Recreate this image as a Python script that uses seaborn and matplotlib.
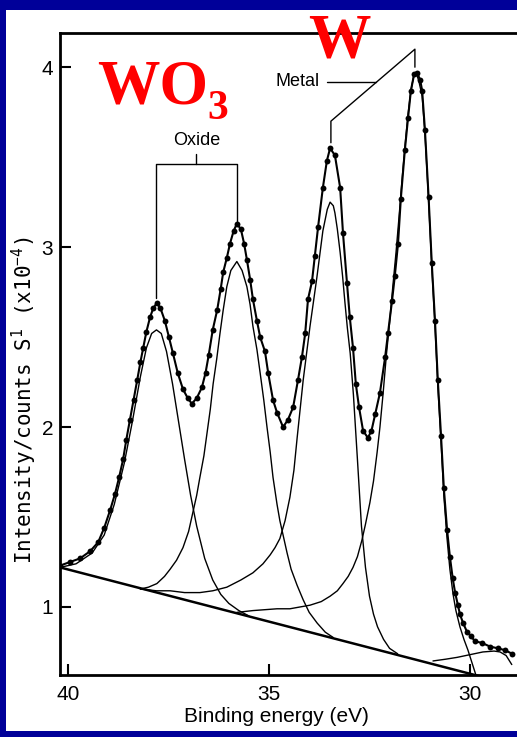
import matplotlib
matplotlib.use("Agg")
import matplotlib.pyplot as plt
from matplotlib.patches import Rectangle
import seaborn as sns
import pandas as pd

# ---------------- data ----------------
# measured envelope (dots): binding energy (eV), intensity (x1e4 counts/s)
env_be = [40.20, 39.95, 39.70, 39.45, 39.25, 39.10, 38.95, 38.83, 38.73, 38.63,
          38.55, 38.46, 38.37, 38.28, 38.20, 38.13, 38.05, 37.96, 37.88, 37.79,
          37.70, 37.59, 37.49, 37.39, 37.27, 37.14, 37.02, 36.92, 36.80, 36.67,
          36.58, 36.50, 36.40, 36.29, 36.20, 36.14, 36.05, 35.97, 35.88, 35.80,
          35.70, 35.62, 35.55, 35.47, 35.40, 35.30, 35.22, 35.10, 35.02, 34.90,
          34.80, 34.65, 34.53, 34.40, 34.28, 34.18, 34.10, 34.03, 33.93, 33.86,
          33.78, 33.66, 33.56, 33.48, 33.36, 33.23, 33.16, 33.06, 32.99, 32.91,
          32.84, 32.76, 32.66, 32.54, 32.45, 32.36, 32.24, 32.11, 32.04, 31.94,
          31.87, 31.79, 31.72, 31.62, 31.54, 31.47, 31.39, 31.32, 31.24, 31.19,
          31.12, 31.03, 30.95, 30.87, 30.80, 30.72, 30.65, 30.57, 30.50, 30.43,
          30.37, 30.30, 30.25, 30.17, 30.07, 29.98, 29.88, 29.70, 29.50, 29.30,
          29.13, 28.95]
env_int = [1.23, 1.25, 1.27, 1.31, 1.36, 1.44, 1.54, 1.63, 1.72, 1.82,
           1.93, 2.04, 2.15, 2.26, 2.36, 2.44, 2.53, 2.61, 2.66, 2.69,
           2.66, 2.59, 2.50, 2.41, 2.30, 2.21, 2.16, 2.13, 2.16, 2.22,
           2.30, 2.40, 2.54, 2.65, 2.77, 2.86, 2.94, 3.02, 3.09, 3.13,
           3.10, 3.02, 2.93, 2.82, 2.71, 2.59, 2.50, 2.42, 2.30, 2.15,
           2.08, 2.00, 2.04, 2.11, 2.26, 2.39, 2.52, 2.71, 2.81, 2.95,
           3.11, 3.33, 3.48, 3.55, 3.51, 3.33, 3.08, 2.80, 2.61, 2.44,
           2.24, 2.11, 1.98, 1.94, 1.98, 2.07, 2.19, 2.39, 2.52, 2.70,
           2.84, 3.02, 3.27, 3.54, 3.72, 3.87, 3.96, 3.97, 3.93, 3.87,
           3.65, 3.28, 2.91, 2.59, 2.26, 1.95, 1.66, 1.43, 1.28, 1.16,
           1.08, 1.01, 0.96, 0.91, 0.86, 0.84, 0.81, 0.80, 0.78, 0.77,
           0.76, 0.74]

# linear background
bg_be = [40.20, 29.50]
bg_int = [1.22, 0.60]

# oxide component 1 (W 4f5/2, WO3)
oxa_be = [40.20, 39.80, 39.40, 39.10, 38.85, 38.60, 38.40, 38.20, 38.05, 37.92,
          37.80, 37.68, 37.55, 37.40, 37.25, 37.10, 36.95, 36.80, 36.60, 36.40,
          36.20, 36.00, 35.75, 35.50]
oxa_int = [1.22, 1.24, 1.30, 1.40, 1.57, 1.80, 2.03, 2.28, 2.44, 2.52,
           2.54, 2.52, 2.42, 2.24, 2.03, 1.82, 1.62, 1.45, 1.27, 1.15,
           1.07, 1.02, 0.98, 0.95]

# oxide component 2 (W 4f7/2, WO3)
oxb_be = [38.20, 38.00, 37.79, 37.60, 37.46, 37.30, 37.14, 37.00, 36.89, 36.80,
          36.72, 36.62, 36.54, 36.46, 36.39, 36.30, 36.22, 36.14, 36.05, 35.95,
          35.80, 35.67, 35.55, 35.47, 35.40, 35.30, 35.22, 35.13, 35.05, 34.97,
          34.90, 34.80, 34.73, 34.63, 34.55, 34.45, 34.30, 34.15, 34.00, 33.80,
          33.60, 33.40]
oxb_int = [1.10, 1.11, 1.13, 1.17, 1.21, 1.26, 1.33, 1.42, 1.53, 1.62,
           1.72, 1.84, 1.97, 2.10, 2.24, 2.38, 2.52, 2.65, 2.78, 2.87,
           2.92, 2.87, 2.78, 2.68, 2.56, 2.43, 2.30, 2.15, 2.00, 1.86,
           1.72, 1.57, 1.48, 1.38, 1.30, 1.21, 1.12, 1.04, 0.97, 0.91,
           0.86, 0.83]

# metal component 1 (W 4f5/2, W)
mta_be = [38.20, 37.80, 37.46, 37.10, 36.72, 36.40, 36.05, 35.70, 35.40, 35.15,
          34.97, 34.85, 34.73, 34.60, 34.48, 34.38, 34.30, 34.15, 33.98, 33.81,
          33.66, 33.55, 33.48, 33.40, 33.36, 33.30, 33.23, 33.17, 33.11, 33.05,
          32.98, 32.90, 32.80, 32.70, 32.60, 32.50, 32.40, 32.30, 32.15, 32.00,
          31.80]
mta_int = [1.10, 1.09, 1.09, 1.08, 1.08, 1.09, 1.11, 1.15, 1.19, 1.24,
           1.29, 1.33, 1.38, 1.48, 1.61, 1.76, 1.94, 2.26, 2.56, 2.83,
           3.09, 3.21, 3.25, 3.23, 3.19, 3.10, 2.97, 2.84, 2.69, 2.55,
           2.41, 2.18, 1.82, 1.45, 1.22, 1.06, 0.96, 0.89, 0.82, 0.77,
           0.74]

# metal component 2 (W 4f7/2, W)
mtb_be = [35.80, 35.40, 34.80, 34.48, 34.23, 33.98, 33.70, 33.48, 33.30, 33.16,
          33.03, 32.91, 32.80, 32.69, 32.60, 32.49, 32.40, 32.31, 32.24, 32.16,
          32.08, 32.00, 31.92, 31.84, 31.76, 31.68, 31.60, 31.54, 31.47, 31.40,
          31.35, 31.28, 31.19, 31.12, 31.03, 30.95, 30.87, 30.80, 30.72, 30.65,
          30.57, 30.50, 30.42, 30.35, 30.25, 30.15, 30.05, 29.95, 29.85]
mtb_int = [0.97, 0.98, 0.99, 0.99, 1.00, 1.01, 1.03, 1.06, 1.09, 1.13,
           1.17, 1.22, 1.28, 1.37, 1.46, 1.58, 1.70, 1.86, 2.00, 2.19,
           2.40, 2.58, 2.78, 2.97, 3.18, 3.40, 3.60, 3.74, 3.87, 3.95,
           3.97, 3.93, 3.84, 3.63, 3.26, 2.89, 2.56, 2.23, 1.92, 1.62,
           1.38, 1.21, 1.07, 0.98, 0.89, 0.82, 0.76, 0.69, 0.62]

# small low-energy component
sat_be = [30.92, 30.60, 30.32, 30.00, 29.68, 29.40, 29.25, 29.10, 28.96]
sat_int = [0.70, 0.71, 0.72, 0.735, 0.75, 0.755, 0.75, 0.73, 0.68]

# peak annotations (brackets)
oxide_be = [37.81, 35.80]
oxide_top = [2.72, 3.14]
metal_be = [33.46, 31.37]
metal_top = [3.58, 4.00]

xticks = [40, 35, 30]
yticks = [1, 2, 3, 4]

# ---------------- figure ----------------
sns.set_theme(style="white")
plt.rcParams['font.family'] = ['Liberation Sans', 'DejaVu Sans']

W, H = 517, 737
fig = plt.figure(figsize=(W / 100, H / 100), dpi=100)
fig.patch.set_facecolor('#000099')
fig.add_artist(Rectangle((6 / W, 1 - 731 / H), (W - 6) / W, (731 - 10) / H,
                         transform=fig.transFigure, facecolor='white',
                         edgecolor='none', zorder=-5))

ax = fig.add_axes([60 / W, 1 - 675 / H, (W - 60) / W, (675 - 33) / H])
ax.set_facecolor('white')

comps = pd.concat([
    pd.DataFrame({'be': oxa_be, 'int': oxa_int, 'comp': 'oxa'}),
    pd.DataFrame({'be': oxb_be, 'int': oxb_int, 'comp': 'oxb'}),
    pd.DataFrame({'be': mta_be, 'int': mta_int, 'comp': 'mta'}),
    pd.DataFrame({'be': mtb_be, 'int': mtb_int, 'comp': 'mtb'}),
    pd.DataFrame({'be': sat_be, 'int': sat_int, 'comp': 'sat'}),
], ignore_index=True)

sns.lineplot(data=comps, x='be', y='int', units='comp', estimator=None,
             sort=False, color='black', lw=1.0, ax=ax, legend=False)
sns.lineplot(x=bg_be, y=bg_int, sort=False, estimator=None, color='black',
             lw=1.8, ax=ax)
sns.lineplot(x=env_be, y=env_int, sort=False, estimator=None, color='black',
             lw=1.5, ax=ax)
sns.scatterplot(x=env_be, y=env_int, s=18, color='black', linewidth=0, ax=ax,
                zorder=5)

ax.set_xlim(40.2, 28.83)
ax.set_ylim(0.622, 4.19)
ax.set_xticks(xticks)
ax.set_yticks(yticks)
ax.set_xticklabels([str(v) for v in xticks])
ax.set_yticklabels([str(v) for v in yticks])
ax.tick_params(axis='both', direction='in', length=8, width=1.5, labelsize=15,
               colors='black', bottom=True, left=True)
ax.tick_params(axis='x', pad=7)
ax.tick_params(axis='y', pad=5)
for side in ['left', 'bottom', 'top']:
    ax.spines[side].set_color('black')
    ax.spines[side].set_linewidth(2.0)
ax.spines['right'].set_visible(False)

ax.set_xlabel('Binding energy (eV)', fontsize=15, color='black')
ax.xaxis.set_label_coords(0.4726, -0.05)
ax.xaxis.label.set_va('top')
ax.set_ylabel(r'Intensity/counts S$^{\mathregular{1}}$ (x10$^{\mathregular{-4}}$)',
              fontsize=15, color='black', family=['DejaVu Sans Mono', 'DejaVu Sans'])
ax.yaxis.set_label_coords(-0.047, 0.428)

# Oxide bracket
lev_o = 3.46
ax.plot([oxide_be[0], oxide_be[0], oxide_be[1], oxide_be[1]],
        [oxide_top[0], lev_o, lev_o, oxide_top[1]], color='black', lw=1.0)
mid_o = (oxide_be[0] + oxide_be[1]) / 2
ax.plot([mid_o, mid_o], [lev_o, lev_o + 0.06], color='black', lw=1.0)
ax.text(mid_o, lev_o + 0.13, 'Oxide', ha='center', va='center', fontsize=13,
        color='black')

# Metal bracket
corner_m, apex_m = 3.70, 4.10
ax.plot([metal_be[0], metal_be[0], metal_be[1], metal_be[1]],
        [metal_top[0], corner_m, apex_m, metal_top[1]], color='black', lw=1.0)
ax.plot([33.56, 32.33], [3.92, 3.92], color='black', lw=1.0)
ax.text(34.29, 3.92, 'Metal', ha='center', va='center', fontsize=13,
        color='black')

# red labels
serif = ['Liberation Serif', 'DejaVu Serif']
fig.text(97 / W, 1 - 104 / H, 'WO', color='#ff0000', fontsize=45,
         fontweight='bold', family=serif, ha='left', va='baseline')
fig.text(207 / W, 1 - 119 / H, '3', color='#ff0000', fontsize=30,
         fontweight='bold', family=serif, ha='left', va='baseline')
fig.text(308 / W, 1 - 57 / H, 'W', color='#ff0000', fontsize=45,
         fontweight='bold', family=serif, ha='left', va='baseline')

fig.savefig('out.png', dpi=100, facecolor=fig.get_facecolor())
